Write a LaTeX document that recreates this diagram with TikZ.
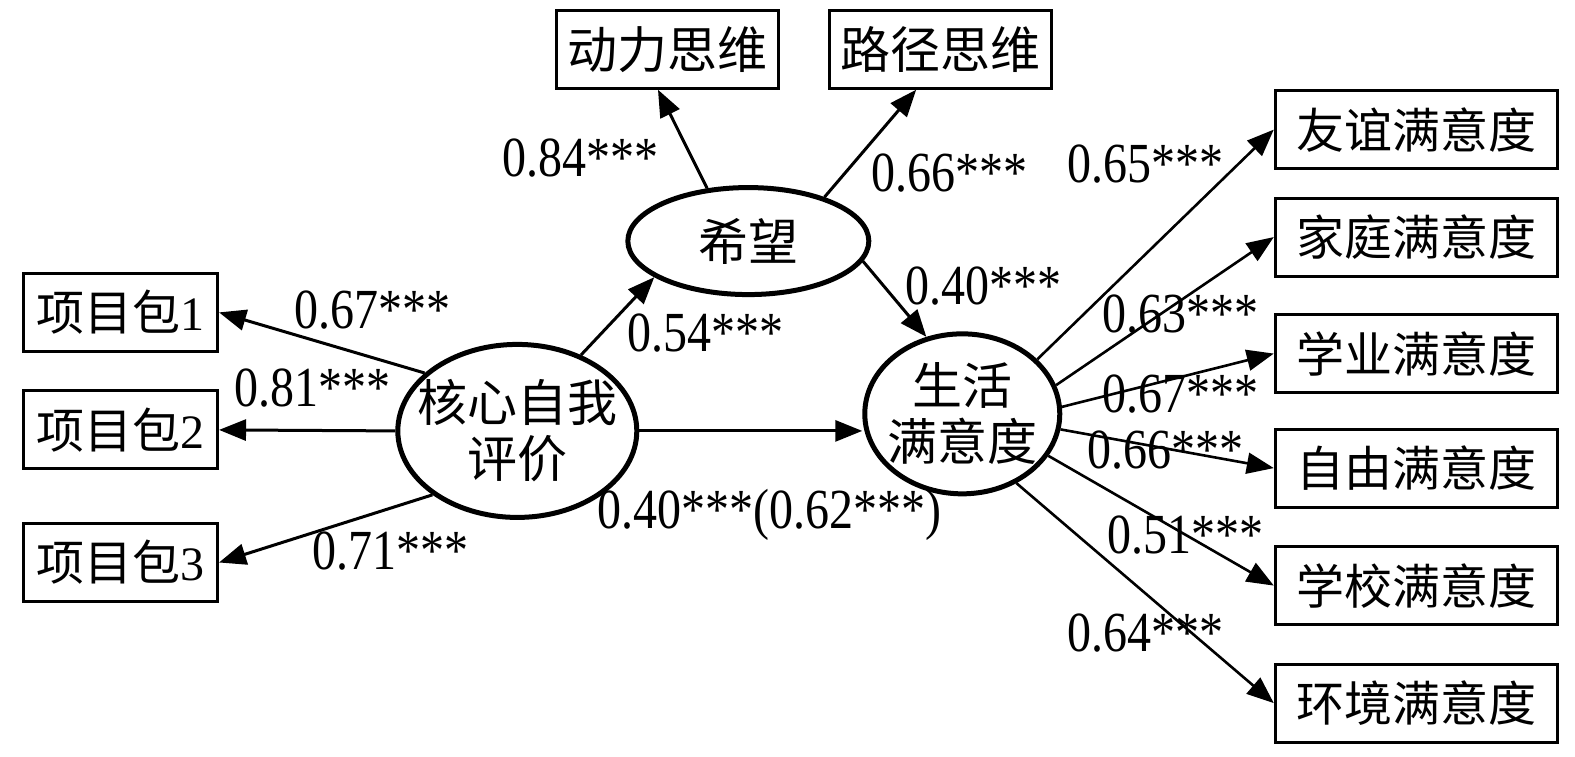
\documentclass[tikz,border=0pt]{standalone}
\usepackage{fontspec}
\usepackage{graphicx}
\setmainfont{Liberation Serif}
\newfontfamily\cjk{Noto Sans CJK SC}
\usetikzlibrary{arrows.meta,shapes.geometric}
\newcommand\num[1]{\scalebox{1}[1.18]{#1}}
\begin{document}
\begin{tikzpicture}[x=1.0045pt,y=-1.0045pt,
  lbox/.style={draw,line width=3pt,minimum width=194pt,minimum height=78pt,inner sep=0pt,font=\fontsize{48}{48}\selectfont},
  rbox/.style={draw,line width=3pt,minimum width=282pt,minimum height=78pt,inner sep=0pt,font=\fontsize{48}{48}\selectfont\cjk},
  latent/.style={draw,ellipse,line width=5pt,inner sep=0pt},
  ltext/.style={align=center,inner sep=0pt,font=\fontsize{50}{56}\selectfont\cjk},
  arr/.style={-{Triangle[length=27pt,width=21pt]},line width=3pt},
  lab/.style={inner sep=0pt,font=\fontsize{48}{48}\selectfont}]
\useasboundingbox (0,0) rectangle (1568,753);
% indicator boxes left
\node[lbox] (b1) at (120,311) {{\cjk 项目包}1};
\node[lbox] (b2) at (120,428) {{\cjk 项目包}2};
\node[lbox] (b3) at (120,560) {{\cjk 项目包}3};
% top boxes
\node[lbox,minimum width=222pt,font=\fontsize{50}{50}\selectfont\cjk] (d1) at (665,49) {动力思维};
\node[lbox,minimum width=222pt,font=\fontsize{50}{50}\selectfont\cjk] (d2) at (936,49) {路径思维};
% right boxes
\node[rbox] (r1) at (1410,129) {友谊满意度};
\node[rbox] (r2) at (1410,236) {家庭满意度};
\node[rbox] (r3) at (1410,352) {学业满意度};
\node[rbox] (r4) at (1410,466) {自由满意度};
\node[rbox] (r5) at (1410,583) {学校满意度};
\node[rbox] (r6) at (1410,700) {环境满意度};
% latent variables
\node[latent,minimum width=241pt,minimum height=107pt] (hope) at (745,240) {};
\node[ltext] (hopet) at (hope.center) {希望};
\node[latent,minimum width=239pt,minimum height=173pt] (core) at (515,429) {};
\node[ltext] (coret) at (core.center) {核心自我\\评价};
\node[latent,minimum width=195pt,minimum height=160pt] (life) at (958,412) {};
\node[ltext] (lifet) at (life.center) {生活\\满意度};
% connectors
\draw[arr] (core.148) -- (b1.east);
\draw[arr] (core.west) -- (b2.east);
\draw[arr] (core.217) -- (b3.east);
\draw[arr] (core.50) -- (hope.201);
\draw[arr] (core.east) -- (core.east -| life.west);
\draw[arr] (hope.128) -- ([xshift=-10pt]d1.south);
\draw[arr] (hope.30) -- ([xshift=-24pt]d2.south);
\draw[arr] (hope.-10) -- (life.115);
\draw[arr,line width=2.6pt] (life.36) -- (r1.west);
\draw[arr,line width=2.6pt] (life.17) -- (r2.west);
\draw[arr,line width=2.6pt] (life.4) -- (r3.west);
\draw[arr,line width=2.6pt] (life.-9) -- (r4.west);
\draw[arr,line width=2.6pt] (life.-26) -- (r5.west);
\draw[arr,line width=2.6pt] (life.-52) -- (r6.west);
% labels
\node[lab] (l1) at (371,309) {\num{0.67***}};
\node[lab] (l2) at (311,386) {\num{0.81***}};
\node[lab] (l3) at (389,549) {\num{0.71***}};
\node[lab] (l4) at (702,332) {\num{0.54***}};
\node[lab] (l5) at (578,157) {\num{0.84***}};
\node[lab] (l6) at (945,172) {\num{0.66***}};
\node[lab] (l7) at (979,285) {\num{0.40***}};
\node[lab] (l8) at (766,513) {\num{0.40***(0.62***)}};
\node[lab] (l9) at (1140,163) {\num{0.65***}};
\node[lab] (l10) at (1175,313) {\num{0.63***}};
\node[lab] (l11) at (1175,392) {\num{0.67***}};
\node[lab] (l12) at (1160,448) {\num{0.66***}};
\node[lab] (l13) at (1180,533) {\num{0.51***}};
\node[lab] (l14) at (1140,630) {\num{0.64***}};
\end{tikzpicture}
\end{document}
